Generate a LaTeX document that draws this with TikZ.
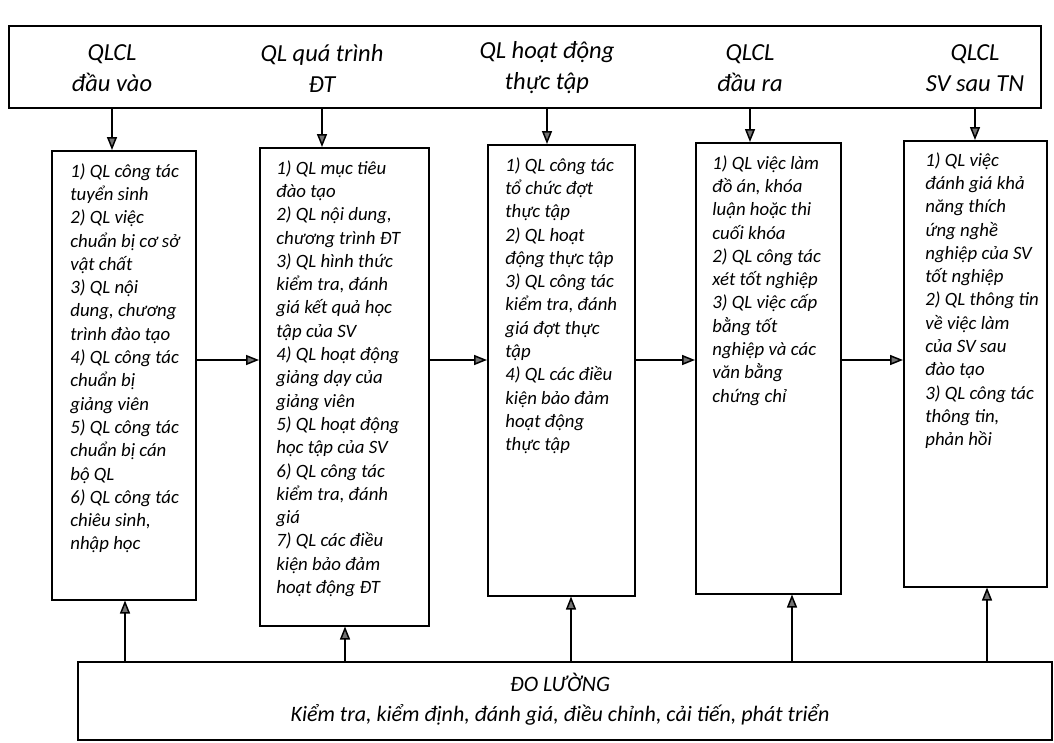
\documentclass[tikz,border=0pt]{standalone}
\usepackage{fontspec}
\setmainfont{Carlito}
\usetikzlibrary{positioning, calc, arrows.meta}
\newcommand{\colfont}{\fontsize{18.8}{23.3}\selectfont\itshape}
\newcommand{\hdfont}{\fontsize{24.5}{31}\selectfont\itshape}
\newcommand{\msfont}{\fontsize{22}{30}\selectfont\itshape}
\tikzset{every picture/.append style={thick}}
\tikzset{
  frame/.style={draw, line width=1.5pt, inner sep=0pt, anchor=north west},
  items/.style={anchor=north west, inner sep=0pt, align=left, font=\colfont},
  head/.style={align=center, inner sep=0pt, font=\hdfont},
  flow/.style={line width=1.5pt, -{Triangle[length=13pt, width=10pt, fill=black!55]}}
}

\begin{document}
\begin{tikzpicture}[x=1pt, y=-1pt]
    \useasboundingbox (0,0) rectangle (1054,742);

    % Top band with the five stages
    \node[frame, minimum width=1032pt, minimum height=82pt] (top) at (8,25) {};
    \node[head] (h1) at (112,68) {QLCL\\đầu vào};
    \node[head] (h2) at (322,68) {QL quá trình\\ĐT};
    \node[head] (h3) at (547,68) {QL hoạt động\\thực tập};
    \node[head] (h4) at (750,68) {QLCL\\đầu ra};
    \node[head] (h5) at (975,68) {QLCL\\SV sau TN};

    % Column boxes
    \node[frame, minimum width=144pt, minimum height=449pt] (c1) at (51,150) {};
    \node[frame, minimum width=169pt, minimum height=478pt] (c2) at (259,147) {};
    \node[frame, minimum width=147pt, minimum height=451pt] (c3) at (487,144) {};
    \node[frame, minimum width=145pt, minimum height=451pt] (c4) at (695,142) {};
    \node[frame, minimum width=143pt, minimum height=446pt] (c5) at (903,140) {};

    % Column texts
    \node[items] (t1) at (70,163) {1) QL công tác\\tuyển sinh\\2) QL việc\\chuẩn bị cơ sở\\vật chất\\3) QL nội\\dung, chương\\trình đào tạo\\4) QL công tác\\chuẩn bị\\giảng viên\\5) QL công tác\\chuẩn bị cán\\bộ QL\\6) QL công tác\\chiêu sinh,\\nhập học};
    \node[items] (t2) at (276,160) {1) QL mục tiêu\\đào tạo\\2) QL nội dung,\\chương trình ĐT\\3) QL hình thức\\kiểm tra, đánh\\giá kết quả học\\tập của SV\\4) QL hoạt động\\giảng dạy của\\giảng viên\\5) QL hoạt động\\học tập của SV\\6) QL công tác\\kiểm tra, đánh\\giá\\7) QL các điều\\kiện bảo đảm\\hoạt động ĐT};
    \node[items] (t3) at (505,157) {1) QL công tác\\tổ chức đợt\\thực tập\\2) QL hoạt\\động thực tập\\3) QL công tác\\kiểm tra, đánh\\giá đợt thực\\tập\\4) QL các điều\\kiện bảo đảm\\hoạt động\\thực tập};
    \node[items] (t4) at (712,155) {1) QL việc làm\\đồ án, khóa\\luận hoặc thi\\cuối khóa\\2) QL công tác\\xét tốt nghiệp\\3) QL việc cấp\\bằng tốt\\nghiệp và các\\văn bằng\\chứng chỉ};
    \node[items] (t5) at (925,152) {1) QL việc\\đánh giá khả\\năng thích\\ứng nghề\\nghiệp của SV\\tốt nghiệp\\2) QL thông tin\\về việc làm\\của SV sau\\đào tạo\\3) QL công tác\\thông tin,\\phản hồi};

    % Bottom band
    \node[frame, minimum width=974pt, minimum height=78pt] (bot) at (77,661) {};
    \node[align=center, inner sep=0pt, font=\msfont] (ms) at (560,699) {ĐO LƯỜNG\\Kiểm tra, kiểm định, đánh giá, điều chỉnh, cải tiến, phát triển};

    % Arrows
    \foreach \i in {1,...,5}
        \draw[flow] (h\i |- top.south) -- (h\i |- c\i.north);
    \foreach \i/\j in {1/2, 2/3, 3/4, 4/5}
        \draw[flow] (c\i.east |- 0,360) -- (c\j.west |- 0,360);
    \foreach \i/\x in {1/125, 2/345, 3/571, 4/792, 5/987}
        \draw[flow] (bot.north -| \x,0) -- (c\i.south -| \x,0);
\end{tikzpicture}
\end{document}
